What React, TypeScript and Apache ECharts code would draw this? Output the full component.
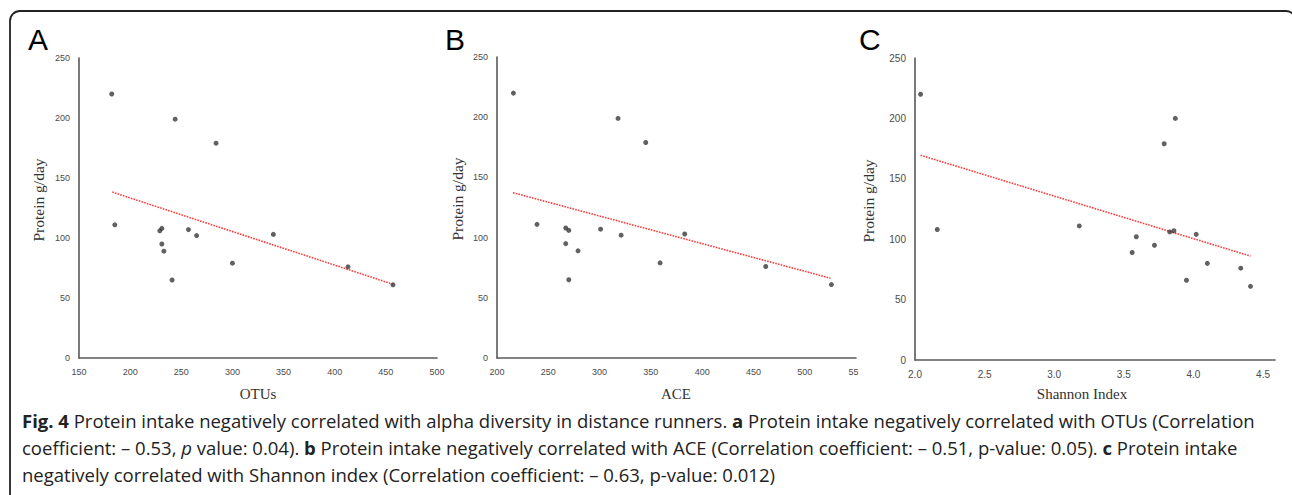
import React, { useEffect, useRef } from "react";
import * as echarts from "echarts";

const otus = [182, 244, 284, 185, 229, 231, 257, 265, 340, 231, 233, 300, 241, 413, 457];
const proteinA = [220, 199, 179, 111, 106, 108, 107, 102, 103, 95, 89, 79, 65, 76, 61];
const ace = [216, 318, 345, 239, 267, 270, 301, 321, 383, 267, 279, 359, 270, 462, 526];
const proteinB = [220, 199, 179, 111, 108, 106, 107, 102, 103, 95, 89, 79, 65, 76, 61];
const shannon = [2.04, 3.87, 3.79, 2.16, 3.18, 3.59, 3.56, 3.72, 3.83, 3.86, 4.02, 4.1, 3.95, 4.34, 4.41];
const proteinC = [220, 200, 179, 108, 111, 102, 89, 95, 106, 107, 104, 80, 66, 76, 61];

const trendA = [[182.5, 138.3], [457, 61.4]];
const trendB = [[215.6, 137.3], [525, 66.3]];
const trendC = [[2.04, 169.5], [4.41, 86]];

const panelLabels = ["A", "B", "C"];
const xNames = ["OTUs", "ACE", "Shannon Index"];
const yName = "Protein g/day";

const captionLines = [
  "{b|Fig. 4} Protein intake negatively correlated with alpha diversity in distance runners. {b|a} Protein intake negatively correlated with OTUs (Correlation",
  "coefficient: – 0.53, {i|p} value: 0.04). {b|b} Protein intake negatively correlated with ACE (Correlation coefficient: – 0.51, p-value: 0.05). {b|c} Protein intake",
  "negatively correlated with Shannon index (Correlation coefficient: – 0.63, p-value: 0.012)",
];

const zip = (xs: number[], ys: number[]) => xs.map((x, i) => [x, ys[i]]);

export default function App() {
  const ref = useRef<HTMLDivElement>(null);
  useEffect(() => {
    if (!ref.current) return;
    const chart = echarts.init(ref.current, null, { renderer: "svg" });
    const grids = [
      { left: 79, top: 58, width: 358, height: 300 },
      { left: 497, top: 57, width: 359, height: 301 },
      { left: 915, top: 58, width: 360, height: 302 },
    ];
    const axisLine = { show: true, lineStyle: { color: "#595959", width: 1.6 } };
    const tickLabel = (fs: number) => ({
      color: "#4a4a4a",
      fontSize: fs,
      fontFamily: "Liberation Sans",
      margin: 9,
    });
    const xRanges = [
      { min: 150, max: 500, interval: 50 },
      { min: 200, max: 550, interval: 50 },
      { min: 2, max: 4.586, interval: 0.5 },
    ];
    const xAxis = xRanges.map((r, i) => ({
      type: "value",
      gridIndex: i,
      min: r.min,
      max: r.max,
      interval: r.interval,
      axisLine,
      axisTick: { show: false },
      splitLine: { show: false },
      axisLabel: {
        ...tickLabel(i === 2 ? 10 : 9),
        showMaxLabel: i !== 2,
        formatter: (v: number) => (i === 2 ? v.toFixed(1) : String(v)),
      },
    }));
    const yAxis = [0, 1, 2].map((i) => ({
      type: "value",
      gridIndex: i,
      min: 0,
      max: 250,
      interval: 50,
      axisLine,
      axisTick: { show: false },
      splitLine: { show: false },
      axisLabel: tickLabel(i === 2 ? 10 : 9),
    }));
    const scatterData = [zip(otus, proteinA), zip(ace, proteinB), zip(shannon, proteinC)];
    const trends = [trendA, trendB, trendC];
    const series: any[] = [];
    scatterData.forEach((d, i) => {
      series.push({
        type: "line",
        xAxisIndex: i,
        yAxisIndex: i,
        data: trends[i],
        symbol: "none",
        lineStyle: { color: "#ff3b3b", width: 1.6, type: [1.6, 1.2] },
        z: 2,
      });
      series.push({
        type: "scatter",
        xAxisIndex: i,
        yAxisIndex: i,
        data: d,
        symbolSize: 5,
        itemStyle: { color: "#3a3a3a" },
        z: 3,
      });
    });

    const labelPos = [28, 445, 859];
    const yNamePos = [[38, 200], [457, 199], [868, 201]];
    const xNamePos = [[258, 394], [676, 394], [1082, 394]];
    const graphic: any[] = [
      {
        type: "rect",
        shape: { x: 10, y: 11, width: 1286, height: 520, r: 10 },
        style: { fill: "none", stroke: "#222", lineWidth: 1.8 },
        silent: true,
      },
      {
        type: "rect",
        shape: { x: 858.5, y: 364, width: 12, height: 18 },
        style: { fill: "#fff" },
        z: 100,
      },
    ];
    panelLabels.forEach((t, i) => {
      graphic.push({
        type: "text",
        x: labelPos[i],
        y: 39,
        style: {
          text: t,
          fill: "#000",
          font: "30px 'Liberation Sans'",
          align: "left",
          verticalAlign: "middle",
          textAlign: "left",
          textVerticalAlign: "middle",
        },
      });
      graphic.push({
        type: "text",
        x: yNamePos[i][0],
        y: yNamePos[i][1],
        rotation: Math.PI / 2,
        style: {
          text: yName,
          fill: "#333",
          font: "15.5px 'Liberation Serif'",
          align: "center",
          verticalAlign: "middle",
          textAlign: "center",
          textVerticalAlign: "middle",
        },
      });
      graphic.push({
        type: "text",
        x: xNamePos[i][0],
        y: xNamePos[i][1],
        style: {
          text: xNames[i],
          fill: "#333",
          font: "15px 'Liberation Serif'",
          align: "center",
          verticalAlign: "middle",
          textAlign: "center",
          textVerticalAlign: "middle",
        },
      });
    });
    const capFs = 18.5;
    const capFam = "'Open Sans'";
    const capY = [420, 447, 474];
    captionLines.forEach((line, i) => {
      graphic.push({
        type: "text",
        x: 22,
        y: capY[i],
        style: {
          text: line,
          fill: "#222",
          fontSize: capFs,
          fontFamily: capFam,
          align: "left",
          verticalAlign: "middle",
          textAlign: "left",
          textVerticalAlign: "middle",
          rich: {
            b: { fontSize: capFs, fontFamily: capFam, fontWeight: "bold", fill: "#222", color: "#222" },
            i: { fontSize: capFs, fontFamily: capFam, fontStyle: "italic", fill: "#222", color: "#222" },
          },
        },
      });
    });

    chart.setOption({
      animation: false,
      backgroundColor: "#fff",
      grid: grids,
      xAxis,
      yAxis,
      series,
      graphic,
    });
    return () => chart.dispose();
  }, []);
  return (
    <div
      ref={ref}
      style={{ position: "absolute", left: 0, top: 0, width: 1292, height: 495 }}
    />
  );
}
